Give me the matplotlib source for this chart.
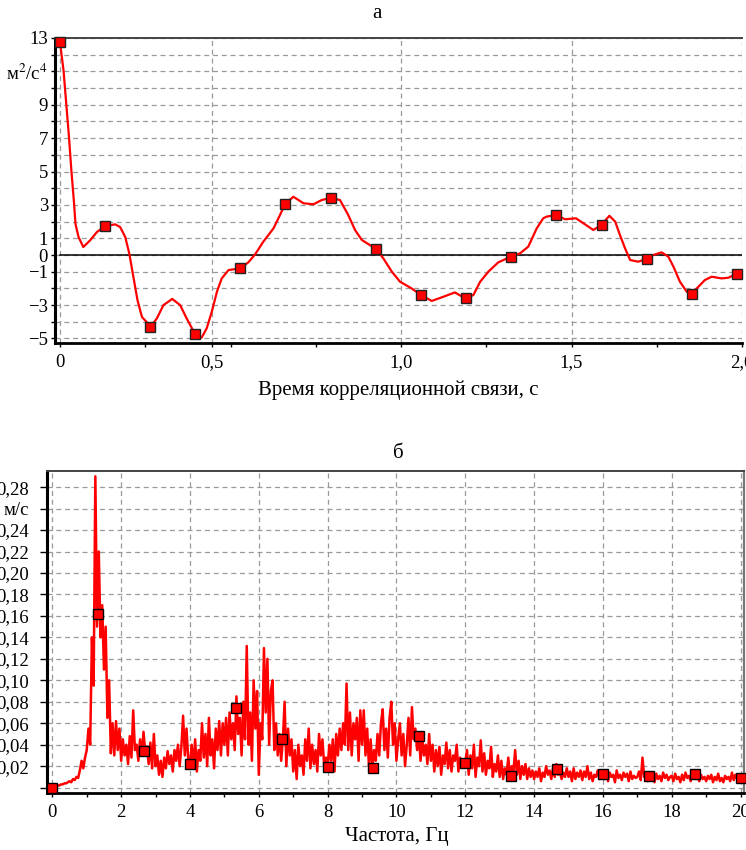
import numpy as np
import matplotlib
matplotlib.use("Agg")
import matplotlib.pyplot as plt
from matplotlib.ticker import MultipleLocator, FixedLocator

plt.rcParams["font.family"] = ["Liberation Serif", "DejaVu Serif"]
plt.rcParams["mathtext.fontset"] = "stix"

# --- а: корреляционная функция (время, с / м^2/с^4)
corr_t = [0.000, 0.010, 0.018, 0.026, 0.033, 0.041, 0.045, 0.054, 0.068, 0.088,
          0.108, 0.132, 0.161, 0.176, 0.191, 0.203, 0.215, 0.227, 0.240, 0.266,
          0.284, 0.303, 0.329, 0.352, 0.371, 0.396, 0.415, 0.430, 0.445, 0.460,
          0.474, 0.494, 0.528, 0.552, 0.572, 0.596, 0.626, 0.645, 0.660, 0.684,
          0.714, 0.743, 0.767, 0.794, 0.821, 0.845, 0.865, 0.885, 0.927, 0.948,
          0.973, 0.997, 1.031, 1.059, 1.090, 1.124, 1.158, 1.188, 1.212, 1.232,
          1.256, 1.285, 1.322, 1.349, 1.373, 1.398, 1.417, 1.427, 1.455, 1.481,
          1.513, 1.535, 1.564, 1.587, 1.611, 1.628, 1.642, 1.657, 1.672, 1.696,
          1.718, 1.740, 1.764, 1.784, 1.799, 1.818, 1.838, 1.852, 1.872, 1.891,
          1.911, 1.940, 1.960, 1.982]
corr_v = [12.7, 11.06, 9.06, 7.07, 5.07, 3.07, 1.87, 1.08, 0.48, 0.88,
          1.38, 1.72, 1.84, 1.68, 1.08, 0.08, -1.32, -2.71, -3.71, -4.29,
          -3.79, -3.0, -2.63, -3.0, -3.79, -4.75, -4.95, -4.39, -3.39, -2.2,
          -1.4, -0.9, -0.8, -0.44, 0.04, 0.8, 1.6, 2.4, 3.05, 3.49,
          3.1, 3.04, 3.29, 3.43, 3.29, 2.4, 1.5, 0.9, 0.36, -0.2,
          -1.0, -1.6, -2.0, -2.4, -2.75, -2.5, -2.24, -2.6, -2.4, -1.6,
          -1.0, -0.44, -0.1, 0.1, 0.5, 1.6, 2.2, 2.3, 2.4, 2.14,
          2.2, 1.9, 1.5, 1.8, 2.35, 2.0, 1.2, 0.4, -0.3, -0.4,
          -0.24, 0.0, 0.16, -0.1, -0.7, -1.6, -2.2, -2.34, -1.9, -1.5,
          -1.3, -1.4, -1.36, -1.14]
corr_mark_t = [0.0, 0.132, 0.265, 0.397, 0.529, 0.661, 0.794, 0.926,
               1.059, 1.191, 1.323, 1.455, 1.588, 1.72, 1.852, 1.985]
corr_mark_v = [12.75, 1.72, -4.3, -4.75, -0.8, 3.05, 3.43, 0.36,
               -2.4, -2.6, -0.1, 2.4, 1.8, -0.24, -2.34, -1.14]
corr_xticks = [0, 0.446, 1.0, 1.5, 2.0]
corr_xlabels = ["0", "0,5", "1,0", "1,5", "2,0"]
corr_ylabels = {13: "13", 11: "м$^2$/с$^4$", 9: "9", 7: "7", 5: "5", 3: "3",
                1: "1", 0: "0", -1: "\u22121", -3: "\u22123", -5: "\u22125"}

# --- б: спектр (частота, Гц / м/с), шаг 0.05 Гц, значения в 0.001 м/с
spec_step = 0.05
spec_milli = [
    0, 1, 1, 2, 2, 3, 3, 4, 4, 5, 6, 5, 8, 7, 10, 9, 16, 25, 18, 28,
    35, 55, 40, 140, 95, 290, 150, 220, 140, 170, 110, 150, 65, 100, 32, 60, 30, 62, 35, 55,
    25, 45, 30, 40, 22, 48, 28, 72, 35, 40, 25, 45, 30, 52, 33, 38, 22, 42, 18, 50,
    20, 30, 12, 25, 10, 28, 18, 34, 22, 30, 15, 35, 25, 40, 20, 38, 67, 30, 55, 25,
    22, 40, 18, 45, 15, 35, 25, 60, 28, 50, 20, 65, 30, 45, 18, 55, 35, 62, 30, 60,
    40, 65, 30, 70, 45, 60, 35, 85, 50, 65, 30, 80, 45, 132, 40, 70, 25, 100, 55, 90,
    12, 60, 45, 130, 70, 120, 40, 90, 100, 35, 60, 30, 50, 25, 45, 80, 20, 55, 30, 45,
    15, 35, 8, 40, 20, 30, 12, 45, 25, 55, 18, 40, 22, 35, 15, 50, 30, 45, 20, 28,
    19, 40, 25, 45, 15, 50, 30, 55, 35, 60, 40, 97, 35, 70, 30, 60, 45, 65, 25, 72,
    40, 72, 30, 55, 20, 45, 18, 35, 25, 50, 30, 60, 73, 35, 55, 28, 65, 80, 40, 60,
    25, 45, 60, 30, 50, 20, 40, 65, 30, 75, 45, 55, 35, 50, 25, 45, 30, 40, 22, 50,
    25, 40, 15, 35, 20, 38, 12, 30, 22, 42, 18, 35, 15, 30, 25, 40, 15, 28, 20, 24,
    23, 35, 12, 30, 18, 40, 10, 28, 20, 44, 15, 32, 12, 25, 18, 38, 10, 22, 15, 30,
    10, 25, 8, 18, 12, 28, 10, 20, 15, 35, 12, 25, 8, 20, 12, 22, 8, 18, 10, 16,
    8, 15, 10, 18, 6, 14, 10, 20, 12, 16, 8, 18, 10, 22, 12, 15, 8, 14, 10, 18,
    10, 15, 6, 18, 8, 14, 10, 16, 7, 15, 10, 20, 8, 14, 6, 12, 10, 16, 8, 13,
    12, 8, 15, 6, 14, 10, 12, 5, 16, 9, 12, 7, 14, 10, 13, 6, 15, 8, 11, 9,
    10, 15, 7, 28, 10, 12, 6, 14, 9, 12, 5, 13, 8, 11, 6, 14, 9, 12, 7, 10,
    11, 6, 13, 8, 10, 5, 12, 7, 14, 9, 11, 6, 13, 15, 8, 10, 6, 12, 8, 10,
    6, 11, 8, 12, 5, 10, 7, 13, 6, 9, 5, 11, 8, 10, 6, 14, 7, 12, 8, 10,
    9]
spec_mark_f = [0.0, 1.333, 2.667, 4.0, 5.333, 6.667, 8.0, 9.333,
               10.667, 12.0, 13.333, 14.667, 16.0, 17.333, 18.667, 20.0]
spec_mark_a = [0.0, 0.162, 0.034, 0.022, 0.074, 0.045, 0.019, 0.018,
               0.048, 0.023, 0.011, 0.017, 0.013, 0.011, 0.013, 0.009]
spec_xlabels = [str(v) for v in range(0, 21, 2)]
spec_ylabels = ["", "0,02", "0,04", "0,06", "0,08", "0,10", "0,12", "0,14",
                "0,16", "0,18", "0,20", "0,22", "0,24", "м/с", "0,28"]

spec_f = np.arange(len(spec_milli)) * spec_step
spec_a = np.array(spec_milli) / 1000.0

W, H = 746, 850
grid_kw = dict(color="#9a9a9a", linestyle=(0, (4, 3)), linewidth=0.9)
red = "#ff0000"


def style_axes(ax, right_spine):
    ax.spines["left"].set_linewidth(2.2)
    ax.spines["bottom"].set_linewidth(2.0)
    ax.spines["left"].set_color("black")
    ax.spines["bottom"].set_color("black")
    ax.spines["top"].set_linewidth(1.4)
    ax.spines["top"].set_color("#444444")
    if right_spine:
        ax.spines["right"].set_linewidth(1.6)
        ax.spines["right"].set_color("#777777")
    else:
        ax.spines["right"].set_visible(False)
    ax.tick_params(which="both", direction="out", length=3, width=1,
                   labelsize=13.5, pad=2)
    ax.tick_params(which="minor", length=3)
    ax.grid(True, which="major", **grid_kw)
    ax.set_axisbelow(True)


fig = plt.figure(figsize=(W / 100, H / 100), dpi=100)

# ---------- а ----------
ax1 = fig.add_axes([55 / W, 1 - 343 / H, (742 - 55) / W, (343 - 38) / H])
ax1.set_xlim(-0.015, 2.0)
ax1.set_ylim(-5.27, 13.0)
style_axes(ax1, right_spine=False)
ax1.axhline(0, xmin=0.015 / 2.015, color="black", linewidth=1.1, zorder=2)
ax1.plot(corr_t, corr_v, color=red, linewidth=1.6, zorder=3)
ax1.plot(corr_mark_t, corr_mark_v, linestyle="none", marker="s", markersize=7,
         markerfacecolor=red, markeredgecolor="#222222", markeredgewidth=1,
         zorder=4, clip_on=False)
ax1.xaxis.set_major_locator(FixedLocator(corr_xticks))
ax1.set_xticklabels(corr_xlabels)
ax1.xaxis.set_minor_locator(MultipleLocator(0.25))
yt = list(range(-5, 14))
ax1.set_yticks(yt)
ax1.set_yticklabels([corr_ylabels.get(v, "") for v in yt])
ax1.tick_params(axis="x", pad=5)
fig.text(377 / W, 1 - 14 / H, "а", ha="center", va="center", fontsize=15)
fig.text(398 / W, 1 - 390 / H, "Время корреляционной связи, с",
         ha="center", va="center", fontsize=15)

# ---------- б ----------
ax2 = fig.add_axes([47 / W, 1 - 793 / H, (744 - 47) / W, (793 - 471) / H])
ax2.set_xlim(-0.155, 20.1)
ax2.set_ylim(-0.005, 0.295)
style_axes(ax2, right_spine=True)
ax2.plot(spec_f, spec_a, color=red, linewidth=1.8, zorder=3)
ax2.plot(spec_mark_f, spec_mark_a, linestyle="none", marker="s", markersize=7.5,
         markerfacecolor=red, markeredgecolor="black", markeredgewidth=1,
         zorder=4, clip_on=False)
ax2.set_xticks(range(0, 21, 2))
ax2.set_xticklabels(spec_xlabels)
ax2.xaxis.set_minor_locator(MultipleLocator(1))
ax2.set_yticks(np.arange(len(spec_ylabels)) * 0.02)
ax2.set_yticklabels(spec_ylabels)
ax2.tick_params(axis="y", length=5, pad=8)
ax2.tick_params(axis="x", pad=5)
fig.text(398 / W, 1 - 453 / H, "б", ha="center", va="center", fontsize=15)
fig.text(397 / W, 1 - 837 / H, "Частота, Гц", ha="center", va="center",
         fontsize=15)

fig.savefig("out.png", dpi=100)
